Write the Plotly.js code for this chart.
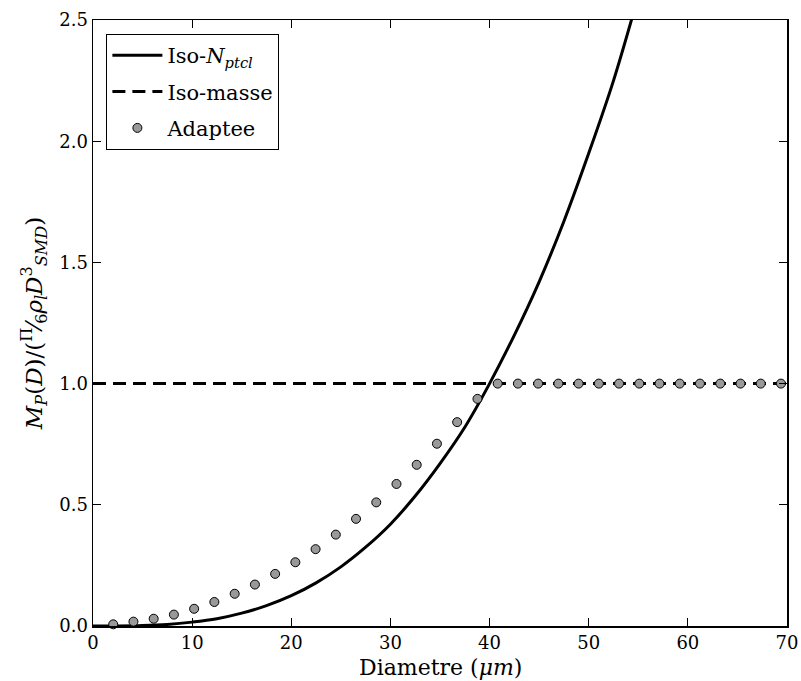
<!DOCTYPE html>
<html>
<head>
<meta charset="utf-8">
<script src="https://cdn.plot.ly/plotly-3.0.1.min.js"></script>
<style>html,body{margin:0;padding:0;background:#fff;}#chart{width:801px;height:681px;}</style>
</head>
<body>
<div id="chart"></div>
<script>
// Iso-N_ptcl curve
const isoN_D = [0, 2.5, 5, 7.5, 10, 12.5, 15, 17.5, 20, 22.5, 25, 27.5, 30, 32.5, 35, 37.5, 40, 42.5, 45, 47.5, 50, 52.5, 55];
const isoN_M = [0, 0.0002, 0.002, 0.0066, 0.016, 0.03, 0.053, 0.084, 0.125, 0.178, 0.244, 0.325, 0.42, 0.536, 0.67, 0.82, 1.0, 1.2, 1.42, 1.67, 1.95, 2.25, 2.6];

// Iso-masse line
const isoMasse_D = [0, 70];
const isoMasse_M = [1.0, 1.0];

// Adaptee points
const adapt_D = [2.04, 4.08, 6.12, 8.16, 10.20, 12.24, 14.29, 16.33, 18.37, 20.41, 22.45, 24.49, 26.53, 28.57, 30.61, 32.65, 34.69, 36.73, 38.78, 40.82, 42.86, 44.90, 46.94, 48.98, 51.02, 53.06, 55.10, 57.14, 59.18, 61.22, 63.27, 65.31, 67.35, 69.39];
const adapt_M = [0.007, 0.018, 0.03, 0.047, 0.071, 0.099, 0.133, 0.171, 0.215, 0.263, 0.317, 0.377, 0.442, 0.510, 0.586, 0.665, 0.752, 0.841, 0.937, 1, 1, 1, 1, 1, 1, 1, 1, 1, 1, 1, 1, 1, 1, 1];

const xTicks = [0, 10, 20, 30, 40, 50, 60, 70];
const yTicks = [0, 0.5, 1.0, 1.5, 2.0, 2.5];

const serif = "'DejaVu Serif', serif";

const traces = [
  {x: isoN_D, y: isoN_M, mode: 'lines', name: 'Iso-<i>N<sub>ptcl</sub></i>', legendgroup: 'a',
   line: {color: 'black', width: 3, shape: 'spline'}},
  {x: isoMasse_D, y: isoMasse_M, mode: 'lines', name: 'Iso-masse', legendgroup: 'b',
   line: {color: 'black', width: 3, dash: '13px,7px'}},
  {x: adapt_D, y: adapt_M, mode: 'markers', name: 'Adaptee', cliponaxis: false, legendgroup: 'c',
   marker: {color: '#999999', size: 9, line: {color: 'black', width: 1}}}
];

const axisCommon = {
  showgrid: false, zeroline: false, showline: true, linecolor: 'black', linewidth: 1.5,
  mirror: 'ticks', ticks: 'inside', ticklen: 8, tickwidth: 1, tickcolor: 'black',
  tickfont: {family: serif, size: 18, color: 'black'}
};

const layout = {
  width: 801, height: 681,
  margin: {l: 93, r: 14, t: 20, b: 55},
  paper_bgcolor: 'white', plot_bgcolor: 'white',
  showlegend: true,
  legend: {x: 0.019, y: 0.977, xanchor: 'left', yanchor: 'top',
    bgcolor: 'white', bordercolor: 'black', borderwidth: 1.2,
    font: {family: serif, size: 21, color: 'black'}, tracegroupgap: 6, itemwidth: 50},
  xaxis: Object.assign({}, axisCommon, {
    range: [0, 70], tickvals: xTicks, ticktext: xTicks.map(String), ticklabelstandoff: 0
  }),
  yaxis: Object.assign({}, axisCommon, {
    range: [0, 2.5], tickvals: yTicks, ticktext: yTicks.map(v => v.toFixed(1)),
    title: {text: '<i>M<sub>P</sub></i>(<i>D</i>)/(<sup>Π</sup>⁄<sub>6</sub><i>ρ<sub>l</sub>D</i><sup>3</sup><sub><i>SMD</i></sub>)',
      font: {family: serif, size: 23, color: 'black'}, standoff: 10}
  }),
  annotations: [{
    text: 'Diametre (<i>μm</i>)', xref: 'paper', yref: 'paper', x: 0.5, y: -0.068,
    xanchor: 'center', yanchor: 'middle', showarrow: false,
    font: {family: serif, size: 22, color: 'black'}
  }]
};

Plotly.newPlot('chart', traces, layout, {displayModeBar: false, staticPlot: true});
</script>
</body>
</html>
